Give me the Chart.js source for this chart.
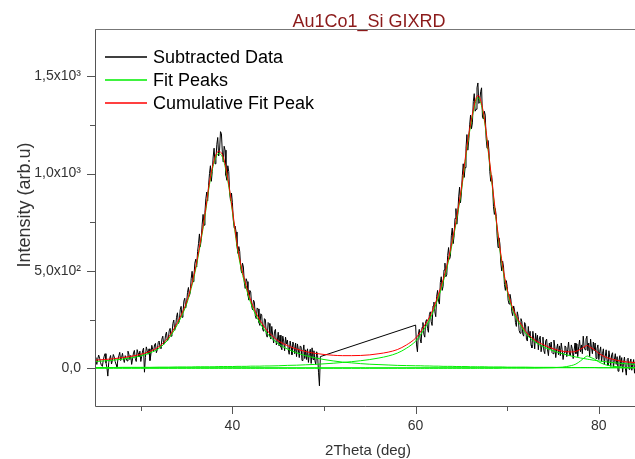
<!DOCTYPE html>
<html><head><meta charset="utf-8">
<script src="https://cdn.jsdelivr.net/npm/chart.js@4.4.0/dist/chart.umd.min.js"></script>
<style>html,body{margin:0;padding:0;background:#fff;}canvas{display:block;}</style>
</head><body>
<canvas id="c" width="635" height="459"></canvas>
<script>
const chartTitle = 'Au1Co1_Si GIXRD';
const xAxisTitle = '2Theta (deg)';
const yAxisTitle = 'Intensity (arb.u)';
const legendLabels = ['Subtracted Data', 'Fit Peaks', 'Cumulative Fit Peak'];
const xMajorTicks = [40, 60, 80];
const xMinorTicks = [30, 50, 70];
const yMajorTicks = [0, 500, 1000, 1500];
const yMajorLabels = ['0,0', '5,0x10²', '1,0x10³', '1,5x10³'];
const yMinorTicks = [250, 750, 1250];

// measured data: two scanned ranges, step 0.1 deg
const dataStartA = 25.0;
const dataStartB = 60.0;
const dataStep = 0.1;
const dataA = [
55,38,20,47,68,52,31,15,10,40,
62,75,28,5,-40,30,50,66,22,41,
71,58,35,20,8,45,64,82,40,55,
77,48,30,65,52,38,88,72,45,66,
20,48,79,92,50,35,96,78,58,88,
35,62,90,104,-20,55,110,92,72,100,
40,70,118,98,85,120,128,80,95,132,
140,108,102,150,165,122,128,170,186,140,
150,192,205,165,176,230,248,195,212,262,
285,230,240,300,318,262,280,345,360,310,
335,390,415,370,392,460,498,445,470,540,
560,520,600,640,690,625,665,740,790,735,
800,870,905,860,940,1000,1040,960,1010,1085,
1130,1050,1075,1150,1185,1090,1120,1215,1205,1110,
1060,1140,1120,990,965,1040,1010,900,860,900,
850,760,720,730,700,630,590,625,600,520,
490,540,520,440,410,460,445,375,350,400,
392,320,300,350,340,270,255,310,305,235,
220,280,275,200,190,255,250,175,160,235,
230,165,150,215,170,130,190,200,120,140,
185,115,170,110,95,165,140,90,160,125,
145,95,72,140,110,70,135,120,75,130,
60,125,95,55,115,110,40,85,120,50,
95,45,100,30,75,98,25,105,45,90,
40,20,85,65,-20,-90,60];
const dataB = [
222,120,85,175,200,150,130,210,235,175,
160,240,250,205,185,275,290,240,220,320,
340,290,265,370,400,345,330,440,470,400,
420,505,540,470,480,580,620,560,575,680,
720,640,680,770,820,740,790,880,930,850,
900,990,1050,980,1030,1130,1200,1120,1170,1250,
1300,1230,1260,1370,1410,1320,1330,1440,1465,1360,
1370,1420,1440,1290,1280,1320,1300,1180,1130,1170,
1120,1010,960,990,940,830,790,820,780,680,
620,670,640,540,500,550,520,430,400,450,
420,350,330,380,355,290,270,320,300,235,
215,290,265,195,180,255,240,175,165,235,
225,150,140,215,160,190,120,105,190,150,
100,180,130,170,95,150,165,85,120,160,
90,75,140,150,95,65,130,100,135,80,
75,145,110,55,100,125,70,115,65,130,
95,45,80,115,110,60,95,135,70,65,
120,100,50,90,130,75,125,60,110,145,
85,120,75,165,110,95,150,165,90,130,
60,150,105,75,135,90,130,50,100,120,
45,85,110,35,75,100,20,60,95,40,
15,90,55,10,70,80,5,45,75,20,
60,-15,40,65,10,55,-20,30,58,0,
-35,45,52,-5,30,48,-10,20,45,-25,
40];

// fit curves
const fitX = [25,26,27,28,29,30,31,32,33,34,34.5,35,35.5,36,36.5,37,37.5,38,38.5,39,39.5,40,40.5,41,41.5,42,42.5,43,43.5,44,45,46,47,48,49,50,51,52,53,54,55,56,57,58,59,60,60.5,61,61.5,62,62.5,63,63.5,64,64.5,65,65.5,66,66.5,66.75,67,67.5,68,68.5,69,69.5,70,70.5,71,71.5,72,73,74,75,76,76.5,77,77.5,78,78.5,78.75,79,79.5,80,80.5,81,82,83,84];
const peak1 = [35,38,42,47,54,64,79,103,149,225,273,330,410,511,637,779,944,1057,1103,1073,963,803,627,502,412,336,278,233,197,168,126,99,80,65,54,45,38,32,28,24,21,19,17,15,14,13,13,12,12,11,11,10,10,10,9,9,9,8,8,8,8,8,7,7,7,7,6,6,6,6,6,5,5,5,4,4,4,4,4,4,4,4,4,3,3,3,3,3,3];
const peak2 = [4,4,4,5,5,5,5,6,6,7,7,7,7,8,8,8,8,8,9,9,9,9,10,10,10,11,11,11,12,12,13,15,16,18,20,23,26,30,34,39,45,53,63,78,103,139,169,207,247,301,366,442,532,642,768,913,1093,1244,1359,1389,1379,1274,1085,880,680,515,396,313,257,217,180,137,110,90,75,69,63,58,53,49,47,45,41,38,35,32,27,23,20];
const peak3 = [0,0,0,0,0,0,0,0,0,0,0,0,0,0,0,0,0,0,0,0,0,0,0,0,0,0,0,0,0,0,0,0,0,0,0,0,0,0,0,0,0,0,0,0,0,0,0,0,0,0,0,0,0,0,0,0,0,0,0,0,0,0,0,0,0,1,1,1,1,1,1,1,2,3,6,9,14,22,38,57,63,58,48,33,22,15,8,4,3];
const baseX = [25, 84];
const baseY = [3, 3];
const cumulative = [42,45,49,55,62,72,87,112,158,235,283,340,420,522,648,790,955,1068,1115,1085,975,815,640,515,425,350,292,247,212,183,142,117,99,86,77,71,67,65,65,66,69,75,83,96,120,155,185,222,262,315,380,455,545,655,780,925,1105,1255,1370,1400,1390,1285,1095,890,690,526,406,323,267,227,190,146,120,101,88,85,84,87,98,113,117,110,96,77,63,53,41,33,29];

const pts = (xs, ys) => xs.map((x, i) => ({x: x, y: ys[i]}));
const measured = dataA.map((y, i) => ({x: dataStartA + i * dataStep, y: y}))
  .concat(dataB.map((y, i) => ({x: dataStartB + i * dataStep, y: y})));

const FONT = '"Liberation Sans", Arial, sans-serif';
const GREEN = '#00ee00';
const RED = '#ff0000';
const BLACK = '#000000';
const legendColors = [BLACK, GREEN, RED];

const decor = {
  id: 'decor',
  afterDraw(chart) {
    const ctx = chart.ctx;
    const a = chart.chartArea;
    const xs = chart.scales.x, ys = chart.scales.y;
    ctx.save();
    ctx.lineWidth = 1;
    ctx.strokeStyle = '#555';
    ctx.beginPath();
    ctx.moveTo(a.left + 0.5, a.top);
    ctx.lineTo(a.left + 0.5, a.bottom + 0.5);
    ctx.lineTo(a.right, a.bottom + 0.5);
    ctx.stroke();
    ctx.strokeStyle = '#777';
    ctx.beginPath();
    ctx.moveTo(a.left, a.top + 0.5);
    ctx.lineTo(a.right, a.top + 0.5);
    ctx.stroke();
    ctx.strokeStyle = '#555';
    ctx.beginPath();
    yMajorTicks.forEach(v => { const p = Math.round(ys.getPixelForValue(v)) + 0.5; ctx.moveTo(a.left - 8, p); ctx.lineTo(a.left, p); });
    yMinorTicks.forEach(v => { const p = Math.round(ys.getPixelForValue(v)) + 0.5; ctx.moveTo(a.left - 5, p); ctx.lineTo(a.left, p); });
    xMajorTicks.forEach(v => { const p = Math.round(xs.getPixelForValue(v)) + 0.5; ctx.moveTo(p, a.bottom); ctx.lineTo(p, a.bottom + 8); });
    xMinorTicks.forEach(v => { const p = Math.round(xs.getPixelForValue(v)) + 0.5; ctx.moveTo(p, a.bottom); ctx.lineTo(p, a.bottom + 5); });
    ctx.stroke();
    ctx.fillStyle = '#8B1A1A';
    ctx.font = '18px ' + FONT;
    ctx.textAlign = 'center';
    ctx.textBaseline = 'alphabetic';
    ctx.fillText(chartTitle, 369, 27);
    ctx.fillStyle = '#333';
    ctx.font = '15px ' + FONT;
    ctx.fillText(xAxisTitle, 368, 455);
    ctx.save();
    ctx.translate(30, 205);
    ctx.rotate(-Math.PI / 2);
    ctx.font = '18px ' + FONT;
    ctx.fillText(yAxisTitle, 0, 0);
    ctx.restore();
    const rowY = [57, 80, 103];
    ctx.font = '18px ' + FONT;
    ctx.textAlign = 'left';
    ctx.textBaseline = 'middle';
    for (let i = 0; i < legendLabels.length; i++) {
      ctx.strokeStyle = legendColors[i];
      ctx.lineWidth = 1.5;
      ctx.beginPath();
      ctx.moveTo(105, rowY[i]);
      ctx.lineTo(147, rowY[i]);
      ctx.stroke();
      ctx.fillStyle = '#000';
      ctx.fillText(legendLabels[i], 153, rowY[i] + 1);
    }
    ctx.restore();
  }
};

const fitStyle = (color) => ({
  borderColor: color, borderWidth: 1, pointRadius: 0, fill: false,
  cubicInterpolationMode: 'monotone'
});

new Chart(document.getElementById('c'), {
  type: 'line',
  data: {
    datasets: [
      Object.assign({label: legendLabels[2], data: pts(fitX, cumulative)}, fitStyle(RED)),
      Object.assign({label: legendLabels[1], data: pts(fitX, peak1)}, fitStyle(GREEN)),
      Object.assign({label: legendLabels[1], data: pts(fitX, peak2)}, fitStyle(GREEN)),
      Object.assign({label: legendLabels[1], data: pts(fitX, peak3)}, fitStyle(GREEN)),
      Object.assign({label: legendLabels[1], data: pts(baseX, baseY)}, fitStyle(GREEN)),
      {label: legendLabels[0], data: measured, borderColor: BLACK, borderWidth: 1, pointRadius: 0, tension: 0, fill: false}
    ]
  },
  options: {
    responsive: false,
    animation: false,
    devicePixelRatio: 1,
    layout: {padding: {top: 29, left: 0, right: 0, bottom: 0}},
    plugins: {legend: {display: false}, tooltip: {enabled: false}, title: {display: false}},
    scales: {
      x: {
        type: 'linear', min: 25, max: 83.95,
        grid: {display: false, drawTicks: false},
        border: {display: false},
        afterFit: s => { s.height = 53; },
        afterBuildTicks: s => { s.ticks = xMajorTicks.map(v => ({value: v})); },
        ticks: {padding: 12, color: '#333', font: {family: FONT, size: 14}, maxRotation: 0, autoSkip: false,
                callback: v => String(v)}
      },
      y: {
        type: 'linear', min: -193.5, max: 1742,
        grid: {display: false, drawTicks: false},
        border: {display: false},
        afterFit: s => { s.width = 95; },
        afterBuildTicks: s => { s.ticks = yMajorTicks.map(v => ({value: v})); },
        ticks: {padding: 14, color: '#333', font: {family: FONT, size: 14}, autoSkip: false,
                callback: v => yMajorLabels[yMajorTicks.indexOf(v)]}
      }
    }
  },
  plugins: [decor]
});
</script>
</body></html>
